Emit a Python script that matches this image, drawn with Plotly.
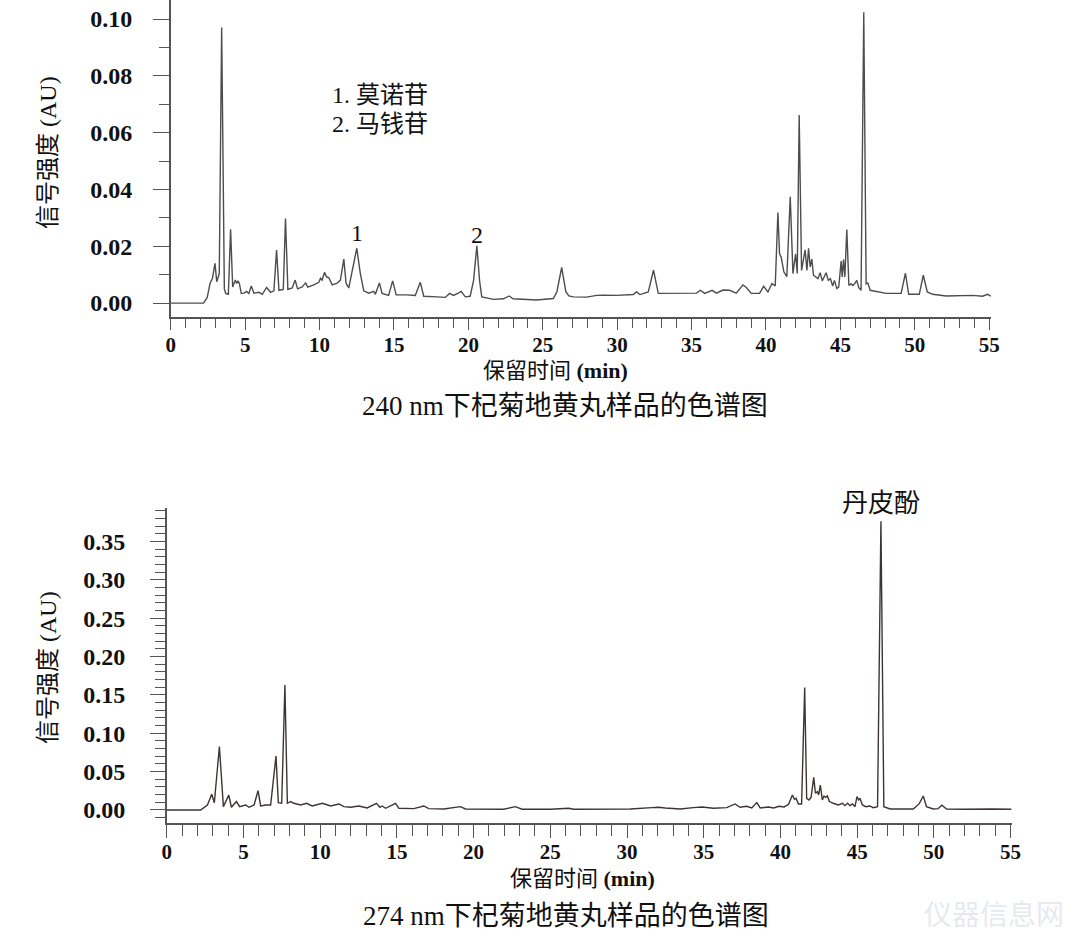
import plotly.graph_objects as go

# ---- 240 nm chromatogram (retention time in min, signal in AU) ----
t240 = [0, 2.2, 2.45, 2.64, 2.80, 2.97, 3.09, 3.26, 3.42, 3.60, 3.69, 3.87, 4.02, 4.16, 4.34, 4.43, 4.52, 4.61,
        4.74, 4.92, 5.10, 5.25, 5.41, 5.59, 5.93, 6.15, 6.44, 6.71, 6.93, 7.11, 7.27, 7.56, 7.71, 7.87, 8.16,
        8.36, 8.52, 8.83, 9.06, 9.21, 9.61, 9.95, 10.06, 10.17, 10.33, 10.46, 10.62, 10.85, 11.18, 11.40, 11.63,
        11.78, 11.96, 12.19, 12.50, 12.74, 12.97, 13.30, 13.64, 13.75, 14.02, 14.20, 14.64, 14.91, 15.15, 15.87,
        16.43, 16.77, 17.0, 17.89, 18.45, 18.74, 19.0, 19.29, 19.52, 19.79, 20.12, 20.35, 20.57, 20.75, 20.90,
        21.69, 22.36, 22.74, 23.0, 24.59, 25.71, 25.95, 26.27, 26.55, 26.75, 27.06, 27.95, 28.62, 29.07, 29.96,
        31.08, 31.3, 31.53, 32.09, 32.44, 32.76, 33.76, 34.66, 35.33, 35.59, 35.88, 36.38, 36.67, 37.11, 37.56,
        38.0, 38.45, 38.68, 39.01, 39.57, 39.84, 40.13, 40.40, 40.62, 40.80, 40.91, 41.02, 41.2, 41.4, 41.63,
        41.81, 41.99, 42.10, 42.23, 42.39, 42.63, 42.75, 42.86, 42.97, 43.08, 43.19, 43.49, 43.64, 43.78, 44.04,
        44.19, 44.33, 44.48, 44.60, 44.76, 44.89, 45.05, 45.12, 45.21, 45.30, 45.43, 45.57, 45.72, 45.83, 45.95,
        46.10, 46.23, 46.39, 46.57, 46.73, 46.84, 47.0, 48.07, 49.08, 49.37, 49.59, 50.3, 50.57, 50.84, 51.2,
        52.1, 53.21, 53.88, 54.55, 54.89, 55.11]
s240 = [0, 0, 0.002, 0.0069, 0.0087, 0.014, 0.0075, 0.0104, 0.097, 0.005, 0.0034, 0.0031, 0.026, 0.0057, 0.0081,
        0.0069, 0.0078, 0.0069, 0.0034, 0.0035, 0.0041, 0.0034, 0.006, 0.0035, 0.0038, 0.0031, 0.0055, 0.0038,
        0.0043, 0.0187, 0.0045, 0.0048, 0.0298, 0.0048, 0.0053, 0.0081, 0.005, 0.0057, 0.0071, 0.0056, 0.0064,
        0.0073, 0.0087, 0.0081, 0.0108, 0.0093, 0.0089, 0.0064, 0.007, 0.0081, 0.0155, 0.007, 0.0053, 0.0111,
        0.0193, 0.0104, 0.0043, 0.0035, 0.0041, 0.0031, 0.0071, 0.0034, 0.0027, 0.0078, 0.0029, 0.0029, 0.0027,
        0.0073, 0.0024, 0.0022, 0.002, 0.0034, 0.0027, 0.0034, 0.0041, 0.0022, 0.0024, 0.008, 0.0202, 0.008,
        0.0022, 0.0013, 0.0015, 0.0025, 0.0015, 0.0011, 0.0016, 0.004, 0.0126, 0.004, 0.0025, 0.0022, 0.0021,
        0.0027, 0.0028, 0.0027, 0.003, 0.0039, 0.003, 0.0039, 0.0116, 0.0034, 0.0034, 0.0034, 0.0035, 0.0045,
        0.0034, 0.0045, 0.0035, 0.0046, 0.0045, 0.0035, 0.0064, 0.0055, 0.0034, 0.0034, 0.0059, 0.0039, 0.0069,
        0.0060, 0.0319, 0.0173, 0.0162, 0.011, 0.0093, 0.0374, 0.0104, 0.0173, 0.0104, 0.0662, 0.0115, 0.0187,
        0.0115, 0.0193, 0.0127, 0.0155, 0.0098, 0.0086, 0.0107, 0.0078, 0.0107, 0.0080, 0.0086, 0.0060, 0.0080,
        0.0051, 0.0057, 0.0148, 0.0092, 0.0153, 0.0092, 0.0259, 0.0062, 0.0068, 0.0062, 0.0068, 0.008, 0.0055,
        0.0045, 0.1024, 0.0068, 0.0071, 0.0045, 0.0034, 0.0034, 0.0105, 0.0031, 0.0031, 0.0098, 0.0039, 0.0031,
        0.0025, 0.0027, 0.0027, 0.0024, 0.0031, 0.0024]

# ---- 274 nm chromatogram ----
t274 = [0, 2.21, 2.65, 2.93, 3.10, 3.43, 3.69, 4.04, 4.21, 4.54, 4.75, 5.14, 5.36, 5.69, 5.95, 6.12, 6.45, 6.77,
        7.12, 7.27, 7.49, 7.70, 7.86, 8.07, 8.29, 8.72, 9.11, 9.48, 10.14, 10.68, 11.22, 11.55, 11.98, 12.52,
        13.06, 13.67, 13.89, 14.04, 14.26, 14.91, 15.13, 16.10, 16.75, 17.08, 18.06, 19.14, 19.47, 20.66, 21.96,
        22.72, 23.16, 25.0, 26.19, 26.52, 28.69, 30.2, 31.62, 32.06, 32.49, 33.47, 34.33, 34.88, 35.64, 36.5,
        37.04, 37.37, 37.8, 38.13, 38.46, 38.68, 39.22, 39.55, 39.92, 40.24, 40.53, 40.78, 40.91, 41.02, 41.17,
        41.38, 41.58, 41.71, 41.87, 42.0, 42.17, 42.28, 42.41, 42.49, 42.6, 42.73, 42.84, 42.95, 43.06, 43.19,
        43.45, 43.77, 44.05, 44.2, 44.38, 44.53, 44.7, 44.86, 44.99, 45.1, 45.18, 45.34, 45.57, 45.83, 46.04,
        46.33, 46.55, 46.74, 47.14, 48.66, 49.05, 49.31, 49.52, 49.96, 50.28, 50.52, 50.83, 51.91, 53.76, 55.05]
s274 = [0, 0, 0.0065, 0.0204, 0.0095, 0.0825, 0.0043, 0.0195, 0.0035, 0.011, 0.0043, 0.0065, 0.0035, 0.0065,
        0.0252, 0.0052, 0.0065, 0.0065, 0.0703, 0.0095, 0.0087, 0.1628, 0.0087, 0.011, 0.0087, 0.0065, 0.0087,
        0.0052, 0.0087, 0.0052, 0.0078, 0.0043, 0.0035, 0.0052, 0.0026, 0.0087, 0.0035, 0.0052, 0.0022, 0.0087,
        0.0022, 0.0017, 0.0052, 0.0017, 0.0013, 0.0043, 0.0013, 0.0009, 0.0009, 0.0043, 0.0009, 0.0009, 0.0022,
        0.0009, 0.0013, 0.0013, 0.003, 0.0035, 0.0026, 0.0013, 0.003, 0.0039, 0.0022, 0.003, 0.0078, 0.0035,
        0.0048, 0.0026, 0.0096, 0.0026, 0.0039, 0.0026, 0.0048, 0.0039, 0.0074, 0.0195, 0.0139, 0.0152, 0.0078,
        0.0078, 0.1597, 0.0152, 0.0130, 0.0165, 0.0425, 0.0217, 0.0239, 0.0195, 0.0325, 0.013, 0.0182, 0.0165,
        0.0182, 0.0109, 0.0087, 0.0065, 0.0087, 0.0056, 0.0087, 0.0056, 0.0078, 0.0043, 0.0173, 0.013, 0.0152,
        0.0065, 0.0043, 0.0052, 0.003, 0.0043, 0.3763, 0.0043, 0.0013, 0.0013, 0.0082, 0.0182, 0.0043, 0.0013,
        0.0017, 0.0061, 0.0013, 0.0009, 0.0013, 0.0009]

x_ticks = [0, 5, 10, 15, 20, 25, 30, 35, 40, 45, 50, 55]
y1_ticks = [0.00, 0.02, 0.04, 0.06, 0.08, 0.10]
y2_ticks = [0.00, 0.05, 0.10, 0.15, 0.20, 0.25, 0.30, 0.35]

W, H = 1080, 950
FONT = "Liberation Serif, Noto Sans CJK SC, serif"
AX = "#555555"


def px(x):
    # target pixel -> paper fraction (small empirical horizontal correction)
    return ((x - 3.9) / 0.989) / W


def py(y):
    return 1 - y / H


fig = go.Figure()
fig.add_trace(go.Scatter(x=t240, y=s240, mode="lines", line=dict(color="#4d4d4d", width=1.4),
                         xaxis="x", yaxis="y", showlegend=False, hoverinfo="skip"))
fig.add_trace(go.Scatter(x=t274, y=s274, mode="lines", line=dict(color="#3e3434", width=1.4),
                         xaxis="x2", yaxis="y2", showlegend=False, hoverinfo="skip"))

common = dict(showline=True, linecolor=AX, linewidth=1.5, ticks="outside", tickcolor=AX, tickwidth=1.3,
              showgrid=False, zeroline=False, fixedrange=True)
yfont = dict(family=FONT, size=24, color="#111", weight="bold")
xfont = dict(family=FONT, size=21, color="#111", weight="bold")

fig.update_layout(
    width=W, height=H, margin=dict(l=0, r=0, t=0, b=0),
    paper_bgcolor="white", plot_bgcolor="white",
    font=dict(family=FONT, color="#111"),
    xaxis=dict(common, domain=[px(170), px(992)], range=[0, 55.13], anchor="y",
               tickvals=x_ticks, ticklen=11, ticklabelstandoff=-3, tickfont=xfont,
               minor=dict(dtick=1, tick0=0, ticks="outside", ticklen=9, tickcolor=AX, tickwidth=1.2)),
    yaxis=dict(common, domain=[py(317), 1], range=[-0.0049, 0.1067], anchor="x",
               tickvals=y1_ticks, tickformat=".2f", ticklen=16, ticklabelstandoff=16, tickfont=yfont,
               minor=dict(dtick=0.01, tick0=0, ticks="outside", ticklen=10, tickcolor=AX, tickwidth=1.2)),
    xaxis2=dict(common, domain=[px(166), px(1013)], range=[0, 55.1], anchor="y2",
                tickvals=x_ticks, ticklen=13, ticklabelstandoff=-4, tickfont=xfont,
                minor=dict(dtick=1, tick0=0, ticks="outside", ticklen=11, tickcolor=AX, tickwidth=1.2)),
    yaxis2=dict(common, domain=[py(823), py(508)], range=[-0.017, 0.3935], anchor="x2",
                tickvals=y2_ticks, tickformat=".2f", ticklen=15, ticklabelstandoff=20, tickfont=yfont,
                minor=dict(dtick=0.01, tick0=0, ticks="outside", ticklen=10, tickcolor=AX, tickwidth=1.2)),
)

ann = []


def text(x, y, s, size, **kw):
    d = dict(x=px(x), y=py(y), xref="paper", yref="paper", text=s, showarrow=False,
             font=dict(family=FONT, size=size, color="#111"), xanchor="center", yanchor="middle")
    d.update(kw)
    ann.append(d)


# top chart texts
text(47, 153, "信号强度 (AU)", 24, textangle=-90)
text(555, 371, "保留时间 <b>(min)</b>", 22)
text(565, 406, "240 nm下杞菊地黄丸样品的色谱图", 27)
text(330, 95, "1. 莫诺苷", 24, xanchor="left")
text(330, 124, "2. 马钱苷", 24, xanchor="left")
ann.append(dict(x=12.5, y=0.0246, xref="x", yref="y", text="1", showarrow=False,
                font=dict(family=FONT, size=24, color="#111")))
ann.append(dict(x=20.57, y=0.0239, xref="x", yref="y", text="2", showarrow=False,
                font=dict(family=FONT, size=24, color="#111")))

# bottom chart texts
text(47, 668, "信号强度 (AU)", 24, textangle=-90)
text(583, 878, "保留时间 <b>(min)</b>", 22)
text(566, 916, "274 nm下杞菊地黄丸样品的色谱图", 27)
ann.append(dict(x=46.55, y=py(503), xref="x2", yref="paper", text="丹皮酚", showarrow=False,
                font=dict(family=FONT, size=26, color="#111"), yanchor="middle"))

# faint watermark
text(995, 915, "仪器信息网", 28, font=dict(family=FONT, size=28, color="rgba(200,205,215,0.45)"))

fig.update_layout(annotations=ann)
fig.write_html("out.html")
